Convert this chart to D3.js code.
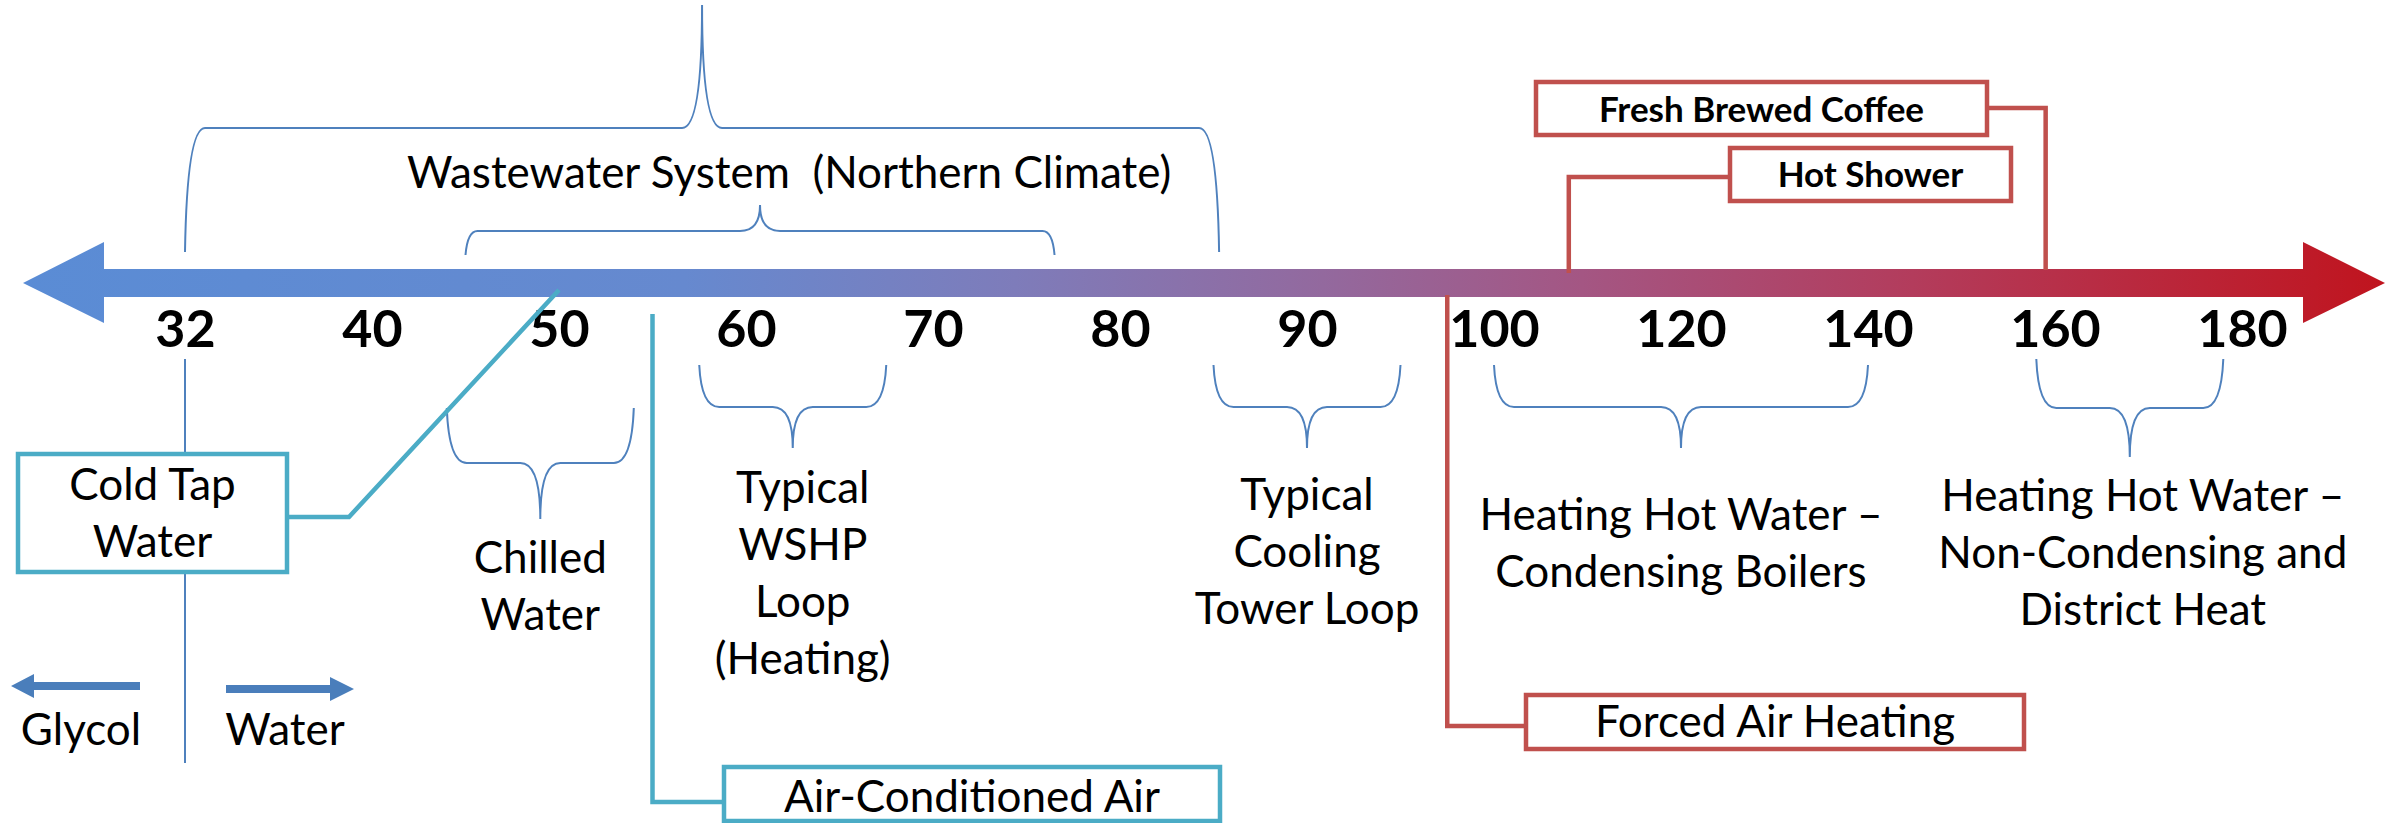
<!DOCTYPE html>
<html>
<head>
<meta charset="utf-8">
<script src="https://cdn.jsdelivr.net/npm/d3@7"></script>
<style>
  html, body { margin: 0; padding: 0; background: #fff; }
  svg { display: block; }
  text { font-family: Lato, "Open Sans", sans-serif; fill: #000; white-space: pre; }
</style>
</head>
<body>
<svg id="chart" width="2397" height="823"></svg>
<script>
var width = 2397;
var height = 823;

// axis ticks (deg F)
var tickTemps = [32, 40, 50, 60, 70, 80, 90, 100, 120, 140, 160, 180];

// bracketed temperature ranges
var rangeLines = [
    ['Wastewater System  (Northern Climate)'],
    [],
    ['Chilled', 'Water'],
    ['Typical', 'WSHP', 'Loop', '(Heating)'],
    ['Typical', 'Cooling', 'Tower Loop'],
    ['Heating Hot Water \u2013', 'Condensing Boilers'],
    ['Heating Hot Water \u2013', 'Non-Condensing and', 'District Heat']
];
var rangeLow = [32, 45, 44, 57.5, 85, 100, 158];
var rangeHigh = [85.3, 76.5, 54, 67.5, 95, 140, 178];

// single point callouts
var calloutLines = [
    ['Cold Tap', 'Water'],
    ['Air-Conditioned Air'],
    ['Forced Air Heating'],
    ['Hot Shower'],
    ['Fresh Brewed Coffee']
];
var calloutTemps = [50, 55, 97.5, 108, 159];
var calloutKind = ['cold', 'cold', 'hot', 'hot', 'hot'];

var legendLabels = ['Glycol', 'Water'];

// layout for the ranges: leg end, bar, tip y; label offset and first baseline
var braceLayout = [
    { yLeg: 252, yBar: 128, yTip: 5, dx: 87, y: 188 },
    { yLeg: 255, yBar: 231, yTip: 205, dx: 0, y: 0 },
    { yLeg: 408, yBar: 463, yTip: 519, dx: 0, y: 573 },
    { yLeg: 365, yBar: 407, yTip: 448, dx: 10, y: 503 },
    { yLeg: 365, yBar: 407, yTip: 448, dx: 0, y: 510 },
    { yLeg: 365, yBar: 407, yTip: 448, dx: 0, y: 530 },
    { yLeg: 359, yBar: 408, yTip: 457, dx: 13, y: 511 }
];

// layout for callout boxes: box rect, text baseline
var calloutLayout = [
    { box: [18, 454, 269, 118], ty: 500, bold: false },
    { box: [724, 767, 496, 54], ty: 812, bold: false },
    { box: [1526, 695, 498, 54], ty: 737, bold: false },
    { box: [1730, 148, 281, 53], ty: 187, bold: true },
    { box: [1536, 82, 451, 53], ty: 122, bold: true }
];

var colors = { cold: '#4BACC6', hot: '#C0504D', brace: '#4F81BD', legend: '#4A7EBB' };

var svg = d3.select('#chart');

var pos = d3.scalePoint()
    .domain(tickTemps)
    .range([185, 2242]);

// piecewise temperature -> x through the tick positions
var x = d3.scaleLinear()
    .domain(tickTemps)
    .range(tickTemps.map(function(d) { return pos(d); }));

var axisY = 283;
var shaftHalf = 14;

// gradient arrow
var defs = svg.append('defs');
var grad = defs.append('linearGradient')
    .attr('id', 'tempGrad')
    .attr('gradientUnits', 'userSpaceOnUse')
    .attr('x1', 23).attr('x2', 2385).attr('y1', 0).attr('y2', 0);
[
    [0, '#5A8CD5'], [0.28, '#6689CF'], [0.42, '#7E7CBA'], [0.55, '#93699E'],
    [0.66, '#A45683'], [0.8, '#B33C5C'], [1, '#C0141E']
].forEach(function(s) {
    grad.append('stop').attr('offset', s[0]).attr('stop-color', s[1]);
});

var xl = x(32) - 81, xr = x(180) + 61;
var arrowPts = [
    [xl - 81, axisY], [xl, axisY - 41], [xl, axisY - shaftHalf], [xr, axisY - shaftHalf],
    [xr, axisY - 41], [xr + 82, axisY], [xr, axisY + 40], [xr, axisY + shaftHalf],
    [xl, axisY + shaftHalf], [xl, axisY + 40]
];
svg.append('path')
    .attr('d', d3.line()(arrowPts) + 'Z')
    .attr('fill', 'url(#tempGrad)');

// tick labels
var axis = d3.axisBottom(x)
    .tickValues(tickTemps)
    .tickSize(0)
    .tickFormat(d3.format('d'));

var axisG = svg.append('g')
    .attr('transform', 'translate(0,' + (axisY + 27) + ')')
    .call(axis);
axisG.select('.domain').remove();
axisG.selectAll('text')
    .attr('y', 0)
    .attr('dy', '0.71em')
    .style('font-family', 'Lato, sans-serif')
    .style('font-weight', 'bold')
    .style('font-size', '52px')
    .attr('fill', '#000');

// curly braces
function bracePath(x1, x2, yLeg, yBar, yTip) {
    var xc = (x1 + x2) / 2;
    var r = Math.min(20, Math.abs(yLeg - yBar) * 0.5);
    var rt = Math.min(20, Math.abs(yTip - yBar) * 0.8);
    var p = d3.path();
    p.moveTo(x1, yLeg);
    p.quadraticCurveTo(x1 + 2, yBar, x1 + r, yBar);
    p.lineTo(xc - rt, yBar);
    p.quadraticCurveTo(xc, yBar, xc, yTip);
    p.quadraticCurveTo(xc, yBar, xc + rt, yBar);
    p.lineTo(x2 - r, yBar);
    p.quadraticCurveTo(x2 - 2, yBar, x2, yLeg);
    return p.toString();
}

var braceG = svg.append('g');
rangeLow.forEach(function(lo, i) {
    var hi = rangeHigh[i];
    var L = braceLayout[i];
    braceG.append('path')
        .attr('d', bracePath(x(lo), x(hi), L.yLeg, L.yBar, L.yTip))
        .attr('fill', 'none')
        .attr('stroke', colors.brace)
        .attr('stroke-width', 2);
    var t = braceG.append('text')
        .attr('text-anchor', 'middle')
        .style('font-size', '44px');
    rangeLines[i].forEach(function(line, j) {
        t.append('tspan')
            .attr('x', (x(lo) + x(hi)) / 2 + L.dx)
            .attr('y', L.y + j * 57)
            .text(line);
    });
});

// freezing line at 32
svg.append('line')
    .attr('x1', x(32)).attr('x2', x(32))
    .attr('y1', 359).attr('y2', 763)
    .attr('stroke', colors.brace)
    .attr('stroke-width', 2);

// glycol / water arrows
var lx = x(32);
var legendArrows = [
    [[lx - 45, 682], [lx - 151, 682], [lx - 151, 674], [lx - 174, 686], [lx - 151, 698], [lx - 151, 690], [lx - 45, 690]],
    [[lx + 41, 685], [lx + 145, 685], [lx + 145, 677], [lx + 169, 689], [lx + 145, 701], [lx + 145, 693], [lx + 41, 693]]
];
legendArrows.forEach(function(pts) {
    svg.append('path')
        .attr('d', d3.line()(pts) + 'Z')
        .attr('fill', colors.legend);
});
svg.selectAll('.legend-label')
    .data(legendLabels)
    .enter()
    .append('text')
    .attr('class', 'legend-label')
    .attr('text-anchor', 'middle')
    .attr('x', function(d, i) { return i == 0 ? lx - 104 : lx + 100; })
    .attr('y', 745)
    .style('font-size', '44px')
    .text(function(d) { return d; });

// callouts
function connector(i) {
    var b = calloutLayout[i].box;
    var cx = x(calloutTemps[i]);
    if (i == 0) {
        return [[b[0] + b[2], 517], [349, 517], [cx, axisY + 7]];
    }
    if (i == 1) {
        return [[cx, 314], [cx, 802], [b[0], 802]];
    }
    if (i == 2) {
        return [[cx, axisY + 12], [cx, 726], [b[0], 726]];
    }
    if (i == 3) {
        return [[cx, axisY - 10], [cx, 177], [b[0], 177]];
    }
    return [[b[0] + b[2], 108], [cx, 108], [cx, axisY - 13]];
}

var calloutG = svg.append('g');
calloutTemps.forEach(function(temp, i) {
    var L = calloutLayout[i];
    var col = colors[calloutKind[i]];
    calloutG.append('path')
        .attr('d', d3.line()(connector(i)))
        .attr('fill', 'none')
        .attr('stroke', col)
        .attr('stroke-width', 4.5)
        .attr('stroke-linejoin', 'miter');
    calloutG.append('rect')
        .attr('x', L.box[0]).attr('y', L.box[1])
        .attr('width', L.box[2]).attr('height', L.box[3])
        .attr('fill', '#fff')
        .attr('stroke', col)
        .attr('stroke-width', 4.5);
    var t = calloutG.append('text')
        .attr('text-anchor', 'middle')
        .style('font-size', L.bold ? '35px' : '44px')
        .style('font-weight', L.bold ? 'bold' : 'normal');
    calloutLines[i].forEach(function(line, j) {
        t.append('tspan')
            .attr('x', L.box[0] + L.box[2] / 2)
            .attr('y', L.ty + j * 57)
            .text(line);
    });
});
</script>
</body>
</html>
